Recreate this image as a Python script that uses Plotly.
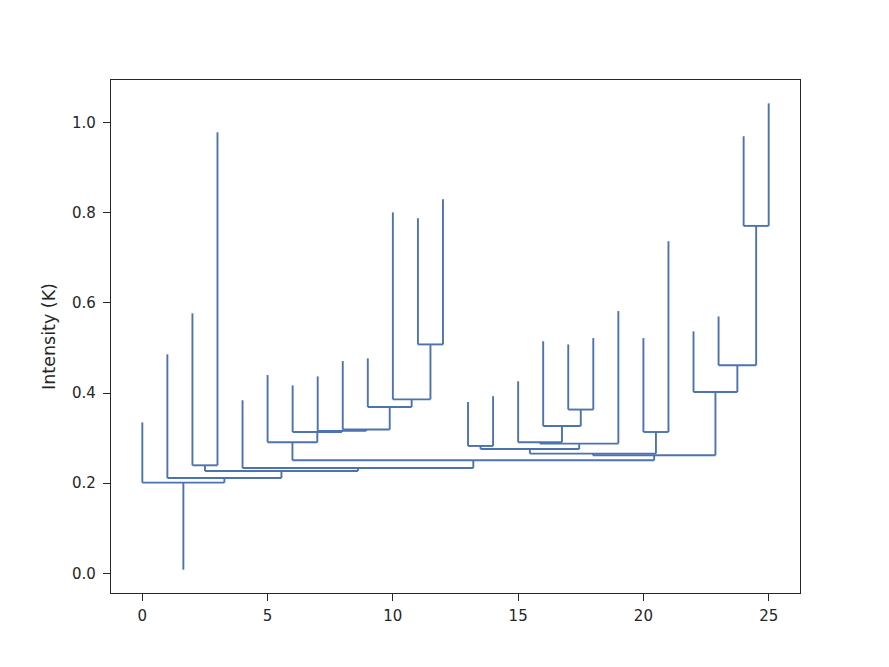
import plotly.graph_objects as go
import numpy as np

# Leaf peak intensities (K), leaves ordered left to right
leaf_peaks = [0.335, 0.486, 0.577, 0.979, 0.384, 0.440, 0.417, 0.437, 0.471, 0.477,
              0.801, 0.788, 0.830, 0.380, 0.393, 0.426, 0.515, 0.508, 0.522, 0.582,
              0.522, 0.737, 0.537, 0.570, 0.970, 1.043]

# Branches: name, merge level (K), children
branch_names = ["J", "K", "L", "M", "N", "F", "D", "A", "U", "X1", "X2", "X3", "X4",
                "V", "O", "Z", "P", "Q", "R", "E", "C", "B", "AB", "L1AB", "ROOT"]
branch_levels = [0.508, 0.386, 0.369, 0.319, 0.316, 0.3136, 0.2908, 0.2397, 0.2826,
                 0.3634, 0.327, 0.2908, 0.2879, 0.2759, 0.3136, 0.2657, 0.771, 0.4617,
                 0.4024, 0.2619, 0.2508, 0.2337, 0.2271, 0.2115, 0.2013]
branch_children = [["11", "12"], ["10", "J"], ["9", "K"], ["8", "L"], ["7", "M"],
                   ["6", "N"], ["5", "F"], ["2", "3"], ["13", "14"], ["17", "18"],
                   ["16", "X1"], ["15", "X2"], ["X3", "19"], ["U", "X4"], ["20", "21"],
                   ["V", "O"], ["24", "25"], ["23", "P"], ["22", "Q"], ["Z", "R"],
                   ["D", "E"], ["4", "C"], ["A", "B"], ["1", "AB"], ["0", "L1AB"]]
root_min = 0.008

# Build tree
height = {str(i): v for i, v in enumerate(leaf_peaks)}
pos = {str(i): float(i) for i in range(len(leaf_peaks))}
children = {}
parent = {}
for n, lv, ch in zip(branch_names, branch_levels, branch_children):
    height[n] = lv
    children[n] = ch
    for c in ch:
        parent[c] = n

def get_pos(n):
    if n not in pos:
        pos[n] = float(np.mean([get_pos(c) for c in children[n]]))
    return pos[n]

for n in branch_names:
    get_pos(n)

xs, ys = [], []
for n in list(height.keys()):
    x = pos[n]
    bottom = height[parent[n]] if n in parent else root_min
    xs += [x, x, None]
    ys += [bottom, height[n], None]
    if n in children:
        pc = [pos[c] for c in children[n]]
        xs += [min(pc), max(pc), None]
        ys += [height[n], height[n], None]

fig = go.Figure()
fig.add_trace(go.Scatter(x=xs, y=ys, mode="lines",
                         line=dict(color="#4c72b0", width=1.9),
                         hoverinfo="skip", showlegend=False))

axis_common = dict(showline=True, linecolor="#262626", linewidth=1.4, mirror=True,
                   ticks="outside", ticklen=7, tickwidth=1.4, tickcolor="#262626",
                   showgrid=False, zeroline=False,
                   tickfont=dict(family="DejaVu Sans", size=15, color="#262626"))

fig.update_layout(
    width=889, height=667,
    margin=dict(l=103, r=97, t=72, b=82),
    paper_bgcolor="white", plot_bgcolor="white",
    xaxis=dict(range=[-1.25, 26.25], tickvals=[0, 5, 10, 15, 20, 25],
               ticklabelstandoff=2, **axis_common),
    yaxis=dict(range=[-0.0437, 1.0948], tickvals=[0.0, 0.2, 0.4, 0.6, 0.8, 1.0],
               tickformat=".1f", ticklabelstandoff=4,
               title=dict(text="Intensity (K)", font=dict(family="DejaVu Sans", size=17.5, color="#262626"),
                          standoff=11),
               **axis_common),
)

fig.write_html("out.html")
